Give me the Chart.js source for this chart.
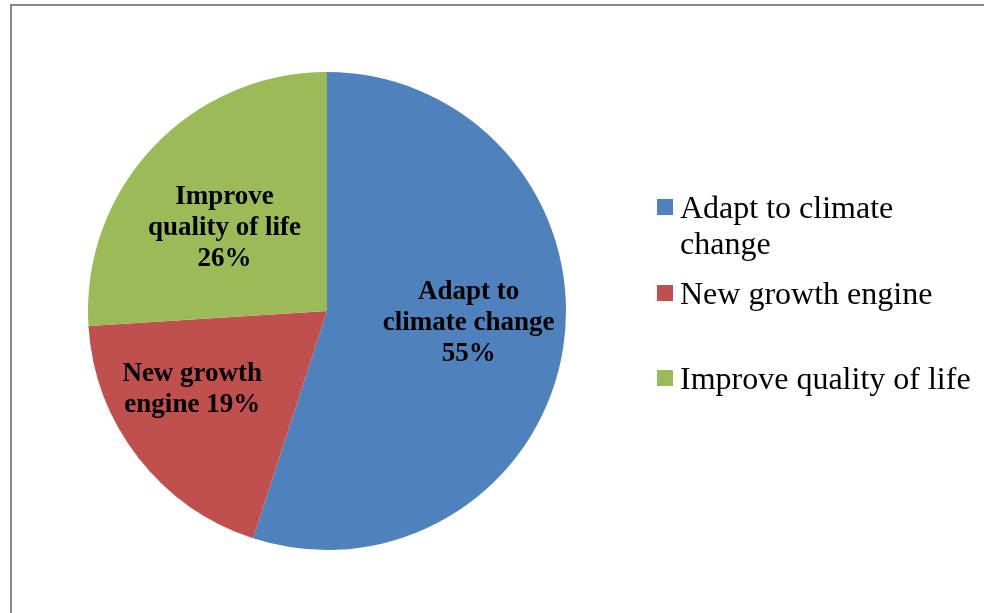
<!DOCTYPE html>
<html>
<head>
<meta charset="utf-8">
<script src="https://cdn.jsdelivr.net/npm/chart.js@4/dist/chart.umd.min.js"></script>
<style>
  html, body { margin: 0; padding: 0; background: #fff; }
  #wrap { position: relative; width: 984px; height: 613px; overflow: hidden; }
  #frame { position: absolute; left: 10px; top: 4px; width: 990px; height: 620px;
           border-top: 2px solid #8a8a8a; border-left: 2px solid #8a8a8a; }
  #chart { position: absolute; left: 0; top: 0; }
  #legend { position: absolute; left: 657px; top: 189px; width: 330px;
            font-family: "Liberation Serif", "Times New Roman", serif; font-size: 32px;
            line-height: 36px; color: #000; }
  .item { position: absolute; left: 0; }
  .box { position: absolute; left: 0; top: 10px; width: 16px; height: 16px; }
  .txt { position: absolute; left: 23px; width: 298px; }
</style>
</head>
<body>
<div id="wrap">
  <div id="frame"></div>
  <canvas id="chart" width="984" height="613"></canvas>
  <div id="legend"></div>
</div>
<script>
var categories = ["Adapt to climate change", "New growth engine", "Improve quality of life"];
var shares = [55, 19, 26];
var colors = ["#4F81BD", "#C0504D", "#9BBB59"];
// label text inside each slice, split into lines (percent appended below)
var sliceLines = [["Adapt to", "climate change"], ["New growth", "engine"], ["Improve", "quality of life"]];
var percentOnOwnLine = [true, false, true];

var total = shares.reduce(function(a, b) { return a + b; }, 0);

var sliceLabels = {
  id: 'sliceLabels',
  afterDatasetsDraw: function(chart) {
    var ctx = chart.ctx;
    var arcs = chart.getDatasetMeta(0).data;
    var reach = [0.6, 0.65, 0.56];
    var nudge = [[0, -10], [-12, -17], [-5, 9]];
    ctx.save();
    ctx.font = 'bold 27px "Liberation Serif", "Times New Roman", serif';
    ctx.fillStyle = '#000';
    ctx.textAlign = 'center';
    ctx.textBaseline = 'middle';
    arcs.forEach(function(arc, i) {
      var mid = (arc.startAngle + arc.endAngle) / 2;
      var r = arc.outerRadius * reach[i];
      var x = arc.x + Math.cos(mid) * r + nudge[i][0];
      var y = arc.y + Math.sin(mid) * r + nudge[i][1];
      var pct = Math.round(shares[i] / total * 100) + '%';
      var lines = sliceLines[i].slice();
      if (percentOnOwnLine[i]) lines.push(pct);
      else lines[lines.length - 1] += ' ' + pct;
      var lh = 31;
      var y0 = y - (lines.length - 1) * lh / 2;
      lines.forEach(function(t, k) { ctx.fillText(t, x, y0 + k * lh); });
    });
    ctx.restore();
  }
};

var ctx = document.getElementById("chart").getContext("2d");
new Chart(ctx, {
  type: 'pie',
  data: {
    labels: categories,
    datasets: [{
      data: shares,
      backgroundColor: colors,
      borderWidth: 0
    }]
  },
  options: {
    responsive: false,
    animation: false,
    layout: { padding: { left: 88, top: 72, right: 418, bottom: 63 } },
    plugins: {
      legend: { display: false },
      tooltip: { enabled: false }
    }
  },
  plugins: [sliceLabels]
});

// legend beside the pie
var legendTops = [0, 86, 171];
var legend = document.getElementById("legend");
categories.forEach(function(name, i) {
  var item = document.createElement("div");
  item.className = "item";
  item.style.top = legendTops[i] + "px";
  var box = document.createElement("div");
  box.className = "box";
  box.style.background = colors[i];
  var txt = document.createElement("div");
  txt.className = "txt";
  txt.textContent = name;
  item.appendChild(box);
  item.appendChild(txt);
  legend.appendChild(item);
});
</script>
</body>
</html>
